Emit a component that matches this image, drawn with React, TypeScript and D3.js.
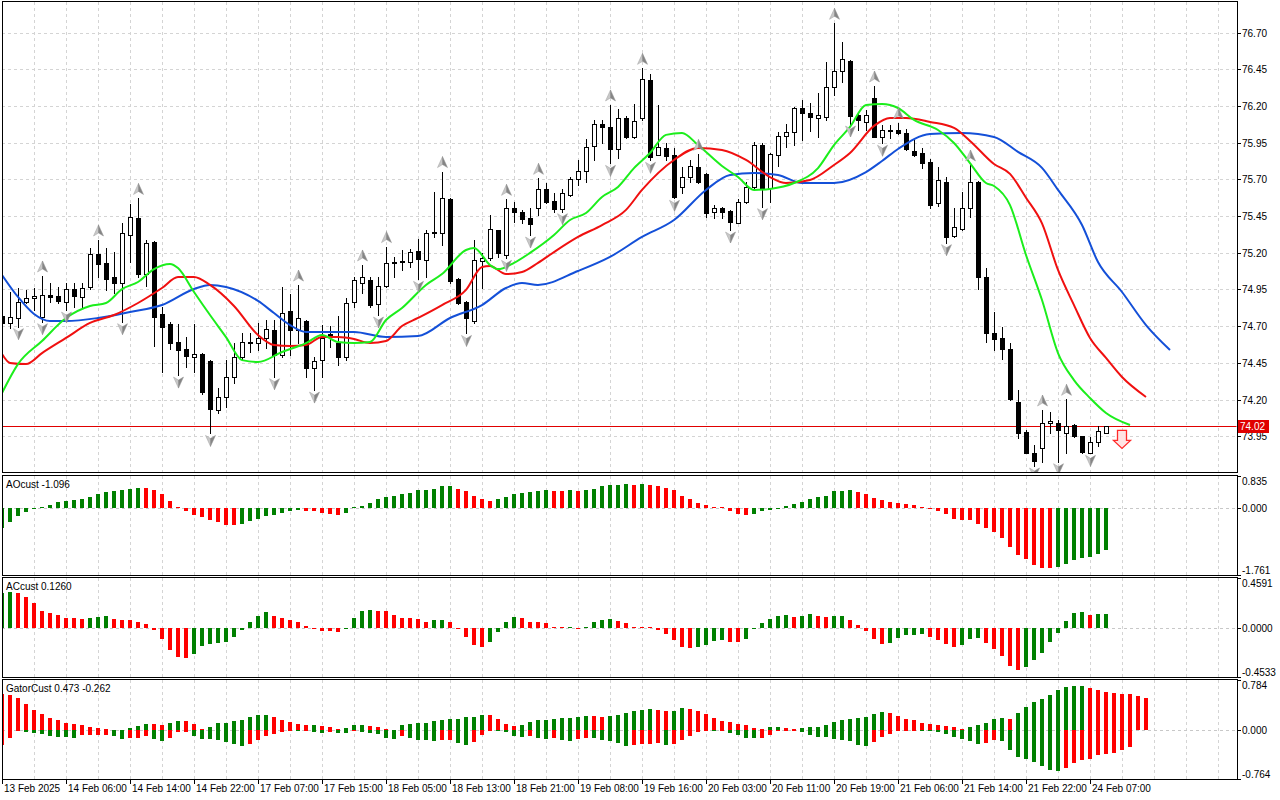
import React from "react";
import * as d3 from "d3";

// ---- price data (H1 bars, oldest first) ----
const opens = [
  74.77, 74.72, 74.754, 74.862, 74.89, 74.765, 74.912, 74.906, 74.867, 74.953,
  74.9, 74.969, 75.192, 75.128, 75.033, 74.992, 75.319, 75.435, 75.056, 75.274,
  74.783, 74.715, 74.592, 74.545, 74.488, 74.51, 74.463, 74.129, 74.22, 74.356,
  74.488, 74.583, 74.588, 74.617, 74.674, 74.504, 74.803, 74.674, 74.735, 74.413,
  74.47, 74.64, 74.583, 74.488, 74.862, 74.992, 75.015, 74.851, 74.974, 75.128,
  75.14, 75.14, 75.212, 75.151, 75.342, 75.333, 75.564, 75.019, 74.865, 74.738,
  75.146, 75.162, 75.355, 75.185, 75.503, 75.478, 75.437, 75.503, 75.632, 75.553,
  75.496, 75.594, 75.7, 75.759, 75.927, 76.077, 76.055, 75.905, 76.116, 75.986,
  76.116, 76.377, 75.866, 75.912, 75.866, 75.646, 75.714, 75.787, 75.737, 75.476,
  75.503, 75.485, 75.405, 75.548, 75.646, 75.934, 75.64, 75.866, 75.996, 76.02,
  76.184, 76.155, 76.116, 76.123, 76.327, 76.438, 76.506, 76.139, 76.093, 76.252,
  75.991, 76.03, 76.036, 76.014, 75.896, 75.878, 75.821, 75.541, 75.684, 75.314,
  75.36, 75.503, 75.684, 75.037, 74.651, 74.617, 74.542, 74.186, 73.982, 73.838,
  73.868, 74.038, 74.038, 73.975, 74.027, 73.952, 73.838, 73.913, 73.975,
];
const highs = [
  74.85, 74.935, 74.958, 74.946, 74.958, 75.042, 74.992, 74.965, 74.992, 74.997,
  74.992, 75.23, 75.287, 75.23, 75.208, 75.4, 75.53, 75.57, 75.287, 75.278,
  74.833, 74.731, 74.715, 74.629, 74.715, 74.52, 74.47, 74.277, 74.47, 74.583,
  74.651, 74.651, 74.72, 74.742, 74.742, 74.969, 74.919, 74.98, 74.742, 74.492,
  74.708, 74.7, 74.77, 74.89, 75.037, 75.117, 75.037, 75.037, 75.242, 75.174,
  75.22, 75.224, 75.292, 75.355, 75.616, 75.753, 75.571, 75.026, 74.874, 75.287,
  75.196, 75.458, 75.355, 75.564, 75.548, 75.492, 75.503, 75.707, 75.673, 75.605,
  75.632, 75.714, 75.83, 75.973, 76.105, 76.105, 76.207, 76.177, 76.13, 76.213,
  76.456, 76.418, 76.207, 75.945, 75.912, 75.787, 75.83, 75.87, 75.745, 75.526,
  75.514, 75.492, 75.564, 75.684, 75.957, 75.945, 75.88, 76.025, 76.077, 76.195,
  76.241, 76.218, 76.291, 76.502, 76.763, 76.638, 76.51, 76.15, 76.173, 76.336,
  76.07, 76.07, 76.086, 76.041, 75.968, 75.912, 75.837, 75.787, 75.714, 75.503,
  75.617, 75.798, 75.69, 75.094, 74.799, 74.697, 74.583, 74.265, 73.993, 73.89,
  74.129, 74.118, 74.061, 74.202, 74.034, 73.952, 73.947, 74.02, 74.02,
];
const lows = [
  74.67, 74.69, 74.697, 74.856, 74.81, 74.731, 74.867, 74.86, 74.81, 74.833,
  74.833, 74.951, 75.033, 74.946, 74.924, 74.731, 75.14, 75.037, 74.974, 74.567,
  74.39, 74.542, 74.367, 74.424, 74.39, 74.238, 73.97, 74.106, 74.147, 74.31,
  74.47, 74.527, 74.538, 74.55, 74.356, 74.492, 74.504, 74.583, 74.356, 74.265,
  74.356, 74.56, 74.436, 74.47, 74.833, 74.924, 74.833, 74.776, 74.969, 75.037,
  75.083, 75.106, 75.019, 75.037, 75.31, 75.253, 74.992, 74.851, 74.651, 74.72,
  74.958, 75.151, 75.174, 75.162, 75.412, 75.401, 75.321, 75.458, 75.537, 75.48,
  75.48, 75.587, 75.66, 75.684, 75.832, 75.95, 75.809, 75.843, 75.98, 75.98,
  76.105, 75.83, 75.866, 75.832, 75.571, 75.605, 75.684, 75.673, 75.441, 75.435,
  75.435, 75.355, 75.401, 75.537, 75.628, 75.514, 75.548, 75.791, 75.923, 75.934,
  75.968, 76.032, 75.991, 76.105, 76.275, 76.366, 76.077, 76.036, 76.036, 75.991,
  75.946, 75.98, 76.009, 75.9, 75.86, 75.775, 75.503, 75.519, 75.269, 75.305,
  75.355, 75.442, 74.951, 74.594, 74.538, 74.474, 74.197, 73.936, 73.834, 73.748,
  73.777, 73.97, 73.777, 73.838, 73.943, 73.838, 73.834, 73.884, 73.97,
];
const closes = [
  74.72, 74.765, 74.865, 74.89, 74.906, 74.91, 74.9, 74.872, 74.953, 74.906,
  74.958, 75.192, 75.121, 75.019, 74.992, 75.333, 75.442, 75.056, 75.264, 74.765,
  74.697, 74.583, 74.538, 74.499, 74.51, 74.254, 74.136, 74.22, 74.356, 74.488,
  74.59, 74.59, 74.617, 74.679, 74.504, 74.788, 74.674, 74.754, 74.417, 74.465,
  74.617, 74.645, 74.488, 74.86, 75.015, 75.037, 74.845, 74.976, 75.128, 75.14,
  75.146, 75.203, 75.16, 75.333, 75.333, 75.571, 75.01, 74.86, 74.754, 75.151,
  75.162, 75.36, 75.201, 75.503, 75.48, 75.43, 75.396, 75.632, 75.548, 75.498,
  75.605, 75.7, 75.759, 75.923, 76.077, 76.055, 75.905, 76.116, 75.986, 76.1,
  76.382, 75.85, 75.923, 75.86, 75.582, 75.718, 75.793, 75.684, 75.473, 75.503,
  75.476, 75.412, 75.548, 75.646, 75.934, 75.64, 75.873, 75.996, 76.02, 76.184,
  76.15, 76.123, 76.139, 76.332, 76.44, 76.518, 76.132, 76.105, 76.139, 75.991,
  76.036, 76.034, 76.014, 75.905, 75.866, 75.814, 75.525, 75.696, 75.31, 75.373,
  75.503, 75.684, 75.033, 74.651, 74.61, 74.547, 74.202, 73.975, 73.838, 73.784,
  74.038, 74.057, 73.993, 74.02, 73.952, 73.845, 73.913, 73.988, 74.02,
];

// ---- alligator lines, [bar index, price] ----
const jaw: [number, number][] = [
  [0, 75.049], [2, 74.899], [4, 74.783], [6, 74.735], [8, 74.735], [12, 74.756],
  [16, 74.797], [20, 74.844], [24, 74.953], [26, 74.981], [28, 74.967], [32, 74.872],
  [34, 74.79], [36, 74.708], [38, 74.66], [44, 74.66], [48, 74.626], [52, 74.633],
  [56, 74.756], [60, 74.844], [63, 74.96], [65, 74.994], [67, 74.981], [72, 75.076],
  [76, 75.172], [80, 75.308], [84, 75.423], [88, 75.628], [91, 75.73], [94, 75.744],
  [97, 75.73], [100, 75.675], [104, 75.675], [108, 75.75], [110, 75.825], [112, 75.907],
  [116, 76.009], [120, 76.016], [124, 75.989], [127, 75.887], [130, 75.778], [132, 75.628],
  [135, 75.389], [137, 75.137], [140, 74.933], [143, 74.708], [146, 74.538],
];
const teeth: [number, number][] = [
  [0, 74.511], [1, 74.45], [3, 74.442], [5, 74.517], [8, 74.62], [11, 74.722],
  [14, 74.776], [17, 74.858], [20, 74.96], [22, 75.035], [24, 75.035], [26, 74.981],
  [29, 74.838], [32, 74.64], [34, 74.572], [36, 74.565], [38, 74.572], [40, 74.626],
  [42, 74.626], [44, 74.613], [46, 74.585], [48, 74.599], [50, 74.701], [52, 74.756],
  [55, 74.844], [58, 74.947], [60, 75.103], [61, 75.11], [63, 75.055], [65, 75.069],
  [67, 75.131], [69, 75.205], [72, 75.308], [75, 75.389], [78, 75.492], [80, 75.628],
  [84, 75.832], [87, 75.914], [90, 75.9], [93, 75.832], [96, 75.716], [98, 75.675],
  [101, 75.696], [104, 75.798], [106, 75.88], [109, 76.064], [111, 76.118], [113, 76.118],
  [116, 76.091], [119, 76.05], [121, 75.962], [124, 75.805], [126, 75.737], [128, 75.575],
  [130, 75.4], [132, 75.083], [134, 74.844], [136, 74.62], [138, 74.484], [140, 74.354],
  [143, 74.218],
];
const lips: [number, number][] = [
  [0, 74.245], [2, 74.442], [5, 74.599], [8, 74.756], [11, 74.838], [13, 74.858],
  [15, 74.953], [17, 75.001], [19, 75.089], [21, 75.124], [22, 75.096], [24, 74.933],
  [26, 74.776], [28, 74.626], [30, 74.469], [32, 74.456], [35, 74.524], [38, 74.585],
  [40, 74.64], [42, 74.592], [44, 74.585], [46, 74.592], [48, 74.742], [50, 74.824],
  [53, 74.981], [55, 75.055], [58, 75.219], [59, 75.233], [61, 75.117], [62, 75.089],
  [64, 75.131], [66, 75.199], [69, 75.321], [71, 75.423], [73, 75.471], [75, 75.58],
  [77, 75.648], [79, 75.777], [81, 75.88], [83, 76.003], [85, 76.016], [87, 75.934],
  [90, 75.791], [92, 75.716], [94, 75.628], [96, 75.635], [99, 75.675], [102, 75.777],
  [104, 75.934], [106, 76.057], [108, 76.207], [110, 76.213], [112, 76.186], [114, 76.105],
  [117, 76.036], [119, 75.948], [121, 75.811], [123, 75.675], [124, 75.655], [126, 75.525],
  [128, 75.185], [130, 74.878], [132, 74.517], [134, 74.333], [136, 74.211], [138, 74.109],
  [141, 74.027],
];

// ---- fractals (bar indices) ----
const fractalUp = [5, 12, 17, 37, 45, 48, 55, 63, 67, 76, 80, 87, 104, 109, 112, 121, 130, 133];
const fractalDown = [2, 5, 8, 15, 22, 26, 34, 39, 47, 52, 58, 63, 66, 70, 76, 81, 84, 91, 95, 106, 110, 118, 129, 132, 136];

const lastPrice = 74.02;
const signalBar = 140;
const signalPrice = 73.99;

// ---- oscillators ----
const aoValues = [
  -0.54, -0.376, -0.219, -0.105, -0.03, 0.02, 0.07, 0.149, 0.175, 0.21,
  0.245, 0.297, 0.35, 0.411, 0.437, 0.463, 0.505, 0.51, 0.508, 0.463,
  0.35, 0.192, 0.035, -0.087, -0.175, -0.227, -0.306, -0.376, -0.437, -0.44,
  -0.43, -0.35, -0.28, -0.21, -0.175, -0.14, -0.087, -0.061, -0.087, -0.09,
  -0.14, -0.157, -0.175, -0.14, 0.01, 0.044, 0.135, 0.219, 0.297, 0.323,
  0.35, 0.402, 0.455, 0.46, 0.507, 0.56, 0.565, 0.507, 0.437, 0.323,
  0.219, 0.192, 0.245, 0.297, 0.376, 0.402, 0.411, 0.437, 0.455, 0.452,
  0.437, 0.455, 0.45, 0.455, 0.507, 0.56, 0.586, 0.612, 0.615, 0.612,
  0.616, 0.612, 0.56, 0.533, 0.455, 0.323, 0.219, 0.14, 0.087, 0.03,
  0.01, -0.087, -0.157, -0.18, -0.153, -0.09, -0.054, 0.005, 0.054, 0.09,
  0.153, 0.235, 0.28, 0.316, 0.433, 0.451, 0.455, 0.415, 0.36, 0.27,
  0.217, 0.144, 0.117, 0.11, 0.063, 0.027, -0.01, -0.09, -0.162, -0.289,
  -0.325, -0.33, -0.415, -0.523, -0.632, -0.794, -1.03, -1.227, -1.354, -1.498,
  -1.579, -1.58, -1.552, -1.48, -1.363, -1.309, -1.282, -1.21, -1.096,
];
const acValues = [
  0.32, 0.33, 0.325, 0.288, 0.226, 0.159, 0.132, 0.122, 0.092, 0.086,
  0.077, 0.086, 0.104, 0.105, 0.083, 0.073, 0.072, 0.058, 0.034, -0.021,
  -0.104, -0.205, -0.269, -0.278, -0.245, -0.171, -0.153, -0.141, -0.129, -0.089,
  -0.021, 0.052, 0.113, 0.144, 0.113, 0.092, 0.073, 0.058, 0.018, 0.002,
  -0.031, -0.032, -0.037, -0.003, 0.092, 0.159, 0.168, 0.159, 0.158, 0.122,
  0.092, 0.086, 0.085, 0.058, 0.073, 0.074, 0.049, -0.015, -0.086, -0.159,
  -0.177, -0.132, -0.04, 0.049, 0.104, 0.095, 0.058, 0.049, 0.04, 0.012,
  0.003, 0.012, 0.002, 0.012, 0.049, 0.076, 0.077, 0.067, 0.04, 0.012,
  0.011, 0.006, -0.024, -0.061, -0.116, -0.18, -0.19, -0.18, -0.159, -0.122,
  -0.116, -0.132, -0.133, -0.1, -0.01, 0.041, 0.079, 0.108, 0.117, 0.098,
  0.108, 0.127, 0.108, 0.098, 0.108, 0.109, 0.07, 0.022, -0.032, -0.101,
  -0.149, -0.136, -0.092, -0.063, -0.062, -0.054, -0.082, -0.111, -0.149, -0.177,
  -0.158, -0.101, -0.092, -0.136, -0.196, -0.262, -0.348, -0.386, -0.357, -0.3,
  -0.234, -0.13, -0.044, 0.06, 0.133, 0.145, 0.122, 0.124, 0.126,
];
const gatorUpper = [
  0.558, 0.542, 0.495, 0.401, 0.318, 0.245, 0.193, 0.162, 0.115, 0.099,
  0.073, 0.052, 0.036, 0.021, 0.01, 0.004, 0.036, 0.068, 0.099, 0.098,
  0.083, 0.115, 0.146, 0.145, 0.094, 0.016, 0.047, 0.109, 0.11, 0.141,
  0.156, 0.203, 0.234, 0.235, 0.203, 0.156, 0.125, 0.094, 0.078, 0.079,
  0.063, 0.047, 0.016, 0.036, 0.083, 0.084, 0.068, 0.052, 0.021, 0.01,
  0.083, 0.099, 0.115, 0.116, 0.141, 0.156, 0.172, 0.173, 0.203, 0.204,
  0.234, 0.233, 0.172, 0.094, 0.063, 0.078, 0.125, 0.156, 0.157, 0.172,
  0.188, 0.189, 0.203, 0.224, 0.223, 0.208, 0.224, 0.24, 0.261, 0.292,
  0.313, 0.323, 0.313, 0.302, 0.303, 0.339, 0.323, 0.297, 0.255, 0.193,
  0.146, 0.12, 0.099, 0.086, 0.038, 0.022, 0.054, 0.055, 0.038, 0.022,
  0.038, 0.054, 0.055, 0.086, 0.135, 0.151, 0.167, 0.183, 0.199, 0.248,
  0.285, 0.264, 0.215, 0.167, 0.151, 0.118, 0.102, 0.086, 0.07, 0.054,
  0.022, 0.054, 0.086, 0.118, 0.167, 0.183, 0.167, 0.264, 0.361, 0.442,
  0.49, 0.555, 0.625, 0.679, 0.684, 0.689, 0.652, 0.63, 0.598, 0.587,
  0.571, 0.57, 0.539, 0.506,
];
const gatorLower = [
  -0.235, -0.12, -0.005, -0.03, -0.052, -0.053, -0.099, -0.1, -0.109, -0.12,
  -0.083, -0.082, -0.081, -0.08, -0.099, -0.146, -0.13, -0.12, -0.099, -0.146,
  -0.162, -0.12, -0.036, -0.035, -0.089, -0.135, -0.136, -0.156, -0.182, -0.214,
  -0.245, -0.214, -0.151, -0.089, -0.057, -0.026, -0.01, -0.012, -0.008, -0.031,
  -0.042, -0.03, -0.042, -0.045, -0.016, -0.036, -0.052, -0.053, -0.12, -0.135,
  -0.099, -0.13, -0.151, -0.161, -0.167, -0.151, -0.15, -0.198, -0.229, -0.182,
  -0.073, -0.005, -0.012, -0.026, -0.089, -0.104, -0.089, -0.12, -0.135, -0.12,
  -0.151, -0.167, -0.135, -0.12, -0.13, -0.151, -0.177, -0.208, -0.245, -0.229,
  -0.214, -0.213, -0.203, -0.229, -0.214, -0.151, -0.099, -0.036, -0.005, -0.016,
  -0.005, -0.042, -0.083, -0.124, -0.129, -0.124, -0.07, -0.016, -0.011, -0.005,
  -0.027, -0.07, -0.108, -0.113, -0.14, -0.156, -0.172, -0.237, -0.253, -0.188,
  -0.108, -0.059, -0.016, -0.011, -0.005, -0.011, -0.016, -0.027, -0.054, -0.108,
  -0.14, -0.172, -0.22, -0.199, -0.156, -0.172, -0.318, -0.415, -0.447, -0.495,
  -0.555, -0.619, -0.635, -0.587, -0.506, -0.474, -0.447, -0.393, -0.372, -0.35,
  -0.312, -0.264,
];

// ---- axes ----
const priceTicks = [76.7, 76.45, 76.2, 75.95, 75.7, 75.45, 75.2, 74.95, 74.7, 74.45, 74.2, 73.95];
const aoTicks = [0.835, 0, -1.761];
const acTicks = [0.4591, 0, -0.4533];
const gatorTicks = [0.784, 0, -0.764];
const timeLabels = [
  "13 Feb 2025", "14 Feb 06:00", "14 Feb 14:00", "14 Feb 22:00", "17 Feb 07:00",
  "17 Feb 15:00", "18 Feb 05:00", "18 Feb 13:00", "18 Feb 21:00", "19 Feb 08:00",
  "19 Feb 16:00", "20 Feb 03:00", "20 Feb 11:00", "20 Feb 19:00", "21 Feb 06:00",
  "21 Feb 14:00", "21 Feb 22:00", "24 Feb 07:00",
];

const FONT = "'Liberation Sans', Arial, sans-serif";
const LEFT = 2;
const RIGHT = 1237;
const GREEN = "#008000";
const RED = "#ff0000";
const GRID = "#d4d4d4";

const panels = {
  price: [1.5, 472.5],
  ao: [475.5, 575.5],
  ac: [577.5, 677.5],
  gator: [679.5, 779.5],
};

const App: React.FC = () => {
  const x = d3.scaleLinear().domain([0, 1]).range([LEFT, LEFT + 8]);
  const yP = d3.scaleLinear().domain([73.707, 76.908]).range([472, 2]);
  const yAO = d3.scaleLinear().domain([-1.761, 0.835]).range([575, 476]);
  const yAC = d3.scaleLinear().domain([-0.4533, 0.4591]).range([677, 578]);
  const yG = d3.scaleLinear().domain([-0.764, 0.784]).range([779, 680]);

  const lineGen = (ys: d3.ScaleLinear<number, number>) =>
    d3
      .line<[number, number]>()
      .x((d) => x(d[0]))
      .y((d) => ys(d[1]))
      .curve(d3.curveMonotoneX);

  const gridXs = d3.range(1, 39).map((k) => LEFT + 32 * k + 0.5);

  const vGrid = (top: number, bottom: number) =>
    gridXs.map((gx) => (
      <line key={gx} x1={gx} x2={gx} y1={top} y2={bottom} stroke={GRID} strokeDasharray="3,3" />
    ));

  // colour rule: rising vs previous bar (first bar takes the colour of the second)
  const upColors = (vals: number[], useAbs = false) =>
    vals.map((v, i) => {
      const j = i === 0 ? 1 : i;
      const a = useAbs ? Math.abs(vals[j]) : vals[j];
      const b = useAbs ? Math.abs(vals[j - 1]) : vals[j - 1];
      return a > b ? GREEN : RED;
    });

  const histogram = (vals: number[], ys: d3.ScaleLinear<number, number>, colors: string[], keyP: string) => {
    const y0 = ys(0);
    return vals.map((v, i) => {
      const cx = Math.round(x(i));
      const yv = ys(v);
      return (
        <rect
          key={keyP + i}
          x={cx - 2}
          y={Math.min(yv, y0)}
          width={4}
          height={Math.max(1, Math.abs(yv - y0))}
          fill={colors[i]}
        />
      );
    });
  };

  const arrowUp = (cx: number, cy: number, k: string) => (
    <g key={k}>
      <path d={`M${cx},${cy - 6} L${cx},${cy + 2} L${cx - 5},${cy + 5} Z`} fill="#c8c8c8" stroke="#a0a0a0" strokeWidth={0.5} />
      <path d={`M${cx},${cy - 6} L${cx + 5},${cy + 5} L${cx},${cy + 2} Z`} fill="#858585" stroke="#909090" strokeWidth={0.5} />
    </g>
  );
  const arrowDown = (cx: number, cy: number, k: string) => (
    <g key={k}>
      <path d={`M${cx},${cy + 6} L${cx},${cy - 2} L${cx - 5},${cy - 5} Z`} fill="#c8c8c8" stroke="#a0a0a0" strokeWidth={0.5} />
      <path d={`M${cx},${cy + 6} L${cx + 5},${cy - 5} L${cx},${cy - 2} Z`} fill="#858585" stroke="#909090" strokeWidth={0.5} />
    </g>
  );

  const sigX = x(signalBar);
  const sigY = yP(signalPrice);
  const lastY = Math.round(yP(lastPrice)) + 0.5;

  const axisLabels = (ticks: number[], ys: d3.ScaleLinear<number, number>, digits: number, top: number, bottom: number, k: string) =>
    ticks.map((t, i) => {
      const ty = ys(t);
      let by = ty + 4;
      if (i === 0) by = top + 9;
      if (i === ticks.length - 1) by = bottom - 2;
      return (
        <g key={k + i}>
          <line x1={RIGHT} x2={RIGHT + 4} y1={Math.round(ty) + 0.5} y2={Math.round(ty) + 0.5} stroke="#000" />
          <text x={RIGHT + 5} y={by} fontSize={10} fontFamily={FONT} fill="#000">
            {t.toFixed(digits)}
          </text>
        </g>
      );
    });

  const zeroLine = (ys: d3.ScaleLinear<number, number>) => {
    const zy = Math.round(ys(0)) + 0.5;
    return <line x1={LEFT} x2={RIGHT} y1={zy} y2={zy} stroke="#c8c8c8" strokeDasharray="3,3" />;
  };

  return (
    <svg
      width={1280}
      height={800}
      style={{ position: "absolute", left: 0, top: 0, background: "#fff" }}
      shapeRendering="crispEdges"
    >
      <defs>
        {Object.entries(panels).map(([name, [t, b]]) => (
          <clipPath id={`clip-${name}`} key={name}>
            <rect x={LEFT + 0.5} y={t + 0.5} width={RIGHT - LEFT - 1} height={b - t - 1} />
          </clipPath>
        ))}
      </defs>
      <rect x={0} y={0} width={1280} height={800} fill="#fff" />

      {/* ---- price panel ---- */}
      <g clipPath="url(#clip-price)">
        {vGrid(panels.price[0], panels.price[1])}
        {priceTicks.map((t) => (
          <line key={t} x1={LEFT} x2={RIGHT} y1={Math.round(yP(t)) + 0.5} y2={Math.round(yP(t)) + 0.5} stroke={GRID} strokeDasharray="3,3" />
        ))}
        <line x1={LEFT} x2={RIGHT} y1={lastY} y2={lastY} stroke="#e00000" />
        {opens.map((o, i) => {
          const c = closes[i];
          const cx = Math.round(x(i));
          const top = Math.round(yP(Math.max(o, c)));
          const bot = Math.round(yP(Math.min(o, c)));
          const bull = c >= o;
          return (
            <g key={"c" + i}>
              <line x1={cx + 0.5} x2={cx + 0.5} y1={Math.round(yP(highs[i]))} y2={Math.round(yP(lows[i])) + 1} stroke="#000" />
              {bot - top < 1 ? (
                <line x1={cx - 2} x2={cx + 3} y1={top + 0.5} y2={top + 0.5} stroke="#000" />
              ) : (
                <rect x={cx - 1.5} y={top + 0.5} width={4} height={bot - top} fill={bull ? "#fff" : "#000"} stroke="#000" />
              )}
            </g>
          );
        })}
        <g shapeRendering="geometricPrecision" fill="none" strokeWidth={2}>
          <path d={lineGen(yP)(jaw) ?? ""} stroke="#1450d8" />
          <path d={lineGen(yP)(teeth) ?? ""} stroke="#f01010" />
          <path d={lineGen(yP)(lips) ?? ""} stroke="#1cee1c" />
        </g>
        <g shapeRendering="geometricPrecision">
          {fractalUp.map((i) => arrowUp(Math.round(x(i)) + 0.5, yP(highs[i]) - 9, "fu" + i))}
          {fractalDown.map((i) => arrowDown(Math.round(x(i)) + 0.5, yP(lows[i]) + 7, "fd" + i))}
          <path
            d={`M${sigX - 4.5},${sigY} L${sigX + 4.5},${sigY} L${sigX + 4.5},${sigY + 10} L${sigX + 8.5},${sigY + 10} L${sigX},${sigY + 18} L${sigX - 8.5},${sigY + 10} L${sigX - 4.5},${sigY + 10} Z`}
            fill="#ffe4e4"
            stroke="#ff2a2a"
            strokeWidth={1.3}
          />
        </g>
      </g>

      {/* ---- AO ---- */}
      <g clipPath="url(#clip-ao)">
        {vGrid(panels.ao[0], panels.ao[1])}
        {zeroLine(yAO)}
        {histogram(aoValues, yAO, upColors(aoValues), "ao")}
      </g>

      {/* ---- AC ---- */}
      <g clipPath="url(#clip-ac)">
        {vGrid(panels.ac[0], panels.ac[1])}
        {zeroLine(yAC)}
        {histogram(acValues, yAC, upColors(acValues), "ac")}
      </g>

      {/* ---- Gator ---- */}
      <g clipPath="url(#clip-gator)">
        {vGrid(panels.gator[0], panels.gator[1])}
        {zeroLine(yG)}
        {histogram(gatorUpper, yG, upColors(gatorUpper, true), "gu")}
        {histogram(gatorLower, yG, upColors(gatorLower, true), "gl")}
      </g>

      {/* frames */}
      {Object.entries(panels).map(([name, [t, b]]) => (
        <rect key={"f" + name} x={LEFT + 0.5} y={t} width={RIGHT - LEFT} height={b - t} fill="none" stroke="#000" />
      ))}

      {/* panel titles */}
      <g fontFamily={FONT} fontSize={10} fill="#000">
        <text x={6} y={488}>AOcust -1.096</text>
        <text x={6} y={590}>ACcust 0.1260</text>
        <text x={6} y={692}>GatorCust 0.473 -0.262</text>
      </g>

      {/* right axes */}
      {priceTicks.map((t) => {
        const ty = Math.round(yP(t)) + 0.5;
        return (
          <g key={"pt" + t}>
            <line x1={RIGHT} x2={RIGHT + 4} y1={ty} y2={ty} stroke="#000" />
            <text x={RIGHT + 5} y={ty + 3.5} fontSize={10} fontFamily={FONT} fill="#000">
              {t.toFixed(2)}
            </text>
          </g>
        );
      })}
      <rect x={RIGHT + 1} y={lastY - 6.5} width={31} height={13} fill="#e00000" />
      <text x={RIGHT + 3} y={lastY + 3.5} fontSize={10} fontFamily={FONT} fill="#fff">
        {lastPrice.toFixed(2)}
      </text>
      {axisLabels(aoTicks, yAO, 3, panels.ao[0], panels.ao[1], "ao")}
      {axisLabels(acTicks, yAC, 4, panels.ac[0], panels.ac[1], "ac")}
      {axisLabels(gatorTicks, yG, 3, panels.gator[0], panels.gator[1], "gt")}

      {/* time axis */}
      {timeLabels.map((lab, k) => {
        const tx = Math.round(x(k * 8)) + 0.5;
        return (
          <g key={lab}>
            <line x1={tx} x2={tx} y1={779.5} y2={784} stroke="#000" />
            <text x={tx + 1.5} y={792} fontSize={10} fontFamily={FONT} fill="#000">
              {lab}
            </text>
          </g>
        );
      })}
    </svg>
  );
};

export default App;
